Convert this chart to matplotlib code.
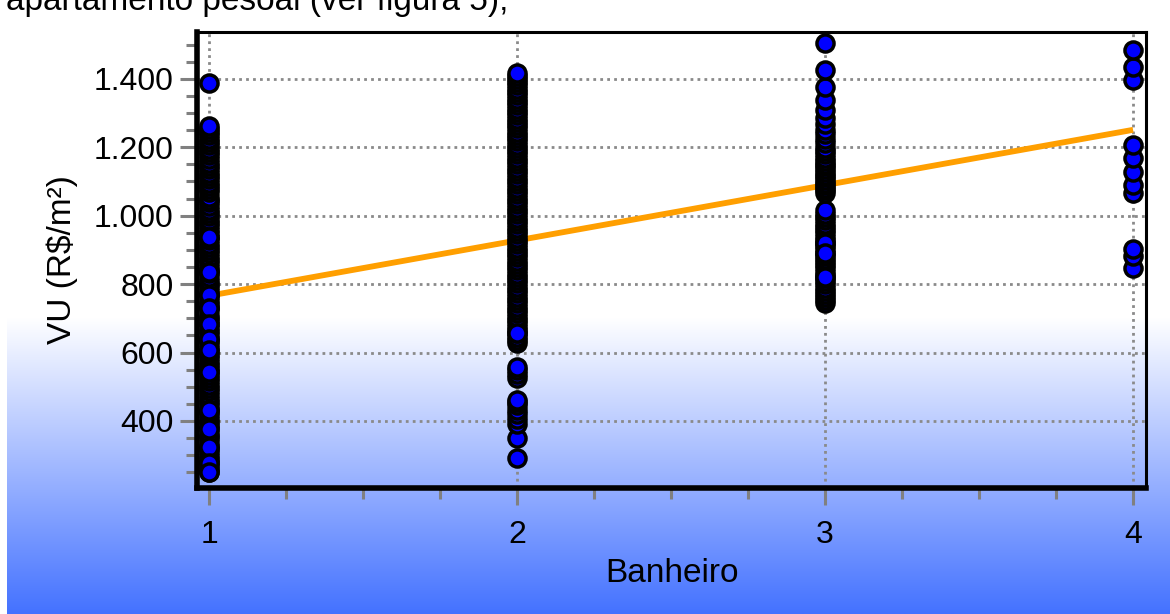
import numpy as np
import matplotlib.pyplot as plt
from matplotlib.ticker import MultipleLocator

plt.rcParams['font.family'] = ['Liberation Sans', 'DejaVu Sans']

# Dados: valor unitario (R$/m2) por numero de banheiros
banheiros = [1, 2, 3, 4]

vu_1 = [251, 259, 268, 279, 288, 297, 309, 318, 327, 338, 349, 357, 366, 378, 387, 396,
        407, 418, 426, 435, 447, 456, 465, 476, 487, 495, 504, 516, 525, 534, 545, 556,
        564, 573, 585, 594, 603, 614, 625, 633, 642, 654, 663, 672, 683, 694, 702, 711,
        723, 732, 741, 752, 763, 771, 780, 792, 801, 810, 821, 832, 840, 849, 861, 870,
        879, 890, 901, 909, 918, 930, 939, 948, 959, 970, 978, 987, 999, 1008, 1017, 1028,
        1039, 1047, 1056, 1068, 1077, 1086, 1097, 1108, 1116, 1125, 1137, 1146, 1155, 1166,
        1177, 1185, 1194, 1206, 1215, 1224, 1235, 1246, 1254, 1263,
        938, 836, 768, 730, 684, 640, 608, 543, 432, 377, 324, 277, 251, 1388]

vu_2 = [292, 350, 392, 405, 420, 432, 447, 455, 462, 525, 538, 548, 558,
        628, 637, 646, 657, 666, 675, 686, 695, 704, 715, 724, 733, 744, 753, 762, 773,
        782, 791, 802, 811, 820, 831, 840, 849, 860, 869, 878, 889, 898, 907, 918, 927,
        936, 947, 956, 965, 976, 985, 994, 1005, 1014, 1023, 1034, 1043, 1052, 1063, 1072,
        1081, 1092, 1101, 1110, 1121, 1130, 1139, 1150, 1159, 1168, 1179, 1188, 1197, 1208,
        1217, 1226, 1237, 1246, 1255, 1266, 1275, 1284, 1295, 1304, 1313, 1324, 1333, 1342,
        1353, 1362, 1371, 1382, 1391, 1400, 1409, 1417, 657]

vu_3 = [745, 753, 762, 771, 780, 790, 799, 808, 818, 827, 836, 846, 855, 864, 874, 883,
        892, 902, 911, 920, 930, 939, 948, 958, 967, 976, 986, 995, 1004, 1017,
        1067, 1074, 1082, 1089, 1097, 1105, 1112, 1120, 1128, 1136, 1144, 1152, 1160, 1170,
        1180, 1190, 1198, 1212, 1225, 1238, 1251, 1268, 1286, 1310, 1339, 1377, 1426, 1505,
        920, 891, 821]

vu_4 = [848, 883, 903, 1067, 1090, 1128, 1169, 1207, 1397, 1435, 1485]

# reta ajustada
reta_x = [1, 4]
reta_y = [766, 1251]

yticks = [400, 600, 800, 1000, 1200, 1400]
ytick_labels = ['400', '600', '800', '1.000', '1.200', '1.400']
xtick_labels = ['1', '2', '3', '4']

fig = plt.figure(figsize=(11.7, 6.14), dpi=100)
fig.patch.set_facecolor('white')

# fundo em degrade (branco -> azul) na parte de baixo
bg = fig.add_axes([7 / 1170, 0, 1 - 7 / 1170, 297 / 614], zorder=-1)
t = np.linspace(0, 1, 256)[:, None, None]
top = np.array([1.0, 1.0, 1.0])
bottom = np.array([68, 114, 255]) / 255
img = (1 - t) * top + t * bottom
img = np.repeat(img, 2, axis=1)
bg.imshow(img, aspect='auto', extent=[0, 1, 0, 1])
bg.axis('off')

fs = 23
fig.text(6 / 1170, 1 - 10 / 614, 'apartamento pesoal (ver figura 5);', fontsize=24,
         va='baseline', ha='left')

ax = fig.add_axes([197 / 1170, 1 - 488 / 614, 949 / 1170, 456 / 614])
ax.patch.set_alpha(0)

ax.plot(reta_x, reta_y, color='#FF9F00', lw=4.2, zorder=2, solid_capstyle='butt')

for b, vals in zip(banheiros, [vu_1, vu_2, vu_3, vu_4]):
    ax.plot([b] * len(vals), vals, 'o', ms=12.3, mfc='#0000FF', mec='black', mew=2.5,
            ls='none', zorder=3)

ax.set_xlim(0.961, 4.042)
ax.set_ylim(204, 1537)

ax.set_xticks(banheiros)
ax.set_xticklabels(xtick_labels)
ax.set_yticks(yticks)
ax.set_yticklabels(ytick_labels)
ax.xaxis.set_minor_locator(MultipleLocator(0.25))
ax.yaxis.set_minor_locator(MultipleLocator(50))

ax.tick_params(which='major', direction='out', length=12, width=2.2, color='#808080',
               labelsize=fs, pad=5)
ax.tick_params(which='minor', direction='out', length=8, width=2.2, color='#808080')
ax.tick_params(axis='x', which='major', pad=11)

ax.grid(True, which='major', color='#8a8a8a', linestyle=(0, (1, 1.5)), linewidth=2.0)
ax.set_axisbelow(True)

for s in ['left', 'bottom']:
    ax.spines[s].set_linewidth(4.0)
for s in ['top', 'right']:
    ax.spines[s].set_linewidth(2.2)

ax.set_xlabel('Banheiro', fontsize=24, va='center')
ax.set_ylabel('VU (R$/m²)', fontsize=24, va='center')
ax.xaxis.set_label_coords(0.5, (488 - 573) / 456)
ax.yaxis.set_label_coords((62 - 197) / 949, 0.5)

fig.savefig('out.png', dpi=100)
